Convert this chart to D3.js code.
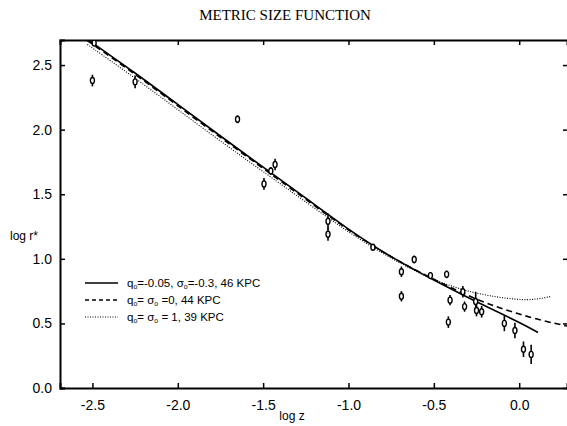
<!DOCTYPE html>
<html>
<head>
<meta charset="utf-8">
<script src="https://d3js.org/d3.v7.min.js"></script>
<style>
  body { margin: 0; background: #fff; }
  svg { display: block; }
</style>
</head>
<body>
<svg id="chart" width="567" height="426"></svg>
<script>
// tick values
let xTicks = [-2.5, -2.0, -1.5, -1.0, -0.5, 0.0];
let yTicks = [0.0, 0.5, 1.0, 1.5, 2.0, 2.5];

// model curves (log z, log r*)
let curveSolid = [[-2.53, 2.70], [-2.25, 2.44], [-2.0, 2.195], [-1.75, 1.95], [-1.5, 1.71], [-1.25, 1.47],
  [-1.0, 1.225], [-0.75, 1.01], [-0.5, 0.835], [-0.25, 0.665], [0.0, 0.51], [0.11, 0.43]];
let curveDashed = [[-2.53, 2.69], [-2.25, 2.43], [-2.0, 2.185], [-1.75, 1.94], [-1.5, 1.70], [-1.25, 1.46],
  [-1.0, 1.22], [-0.75, 1.01], [-0.5, 0.84], [-0.25, 0.68], [0.0, 0.57], [0.14, 0.52], [0.28, 0.48]];
let curveDotted = [[-2.53, 2.66], [-2.25, 2.40], [-2.0, 2.155], [-1.75, 1.91], [-1.5, 1.675], [-1.25, 1.44],
  [-1.0, 1.205], [-0.75, 1.0], [-0.5, 0.83], [-0.25, 0.725], [0.0, 0.68], [0.1, 0.685], [0.19, 0.71]];

// observed points: log z, log r*, error
let obsZ = [-2.49, -2.5, -2.25, -1.65, -1.43, -1.455, -1.495, -1.12, -1.12, -0.857, -0.69, -0.69, -0.615, -0.52,
  -0.425, -0.405, -0.415, -0.33, -0.32, -0.255, -0.25, -0.22, -0.087, -0.025, 0.025, 0.07];
let obsR = [2.67, 2.38, 2.37, 2.08, 1.73, 1.68, 1.58, 1.29, 1.19, 1.09, 0.90, 0.71, 0.995, 0.87,
  0.88, 0.68, 0.51, 0.745, 0.63, 0.67, 0.60, 0.59, 0.50, 0.445, 0.30, 0.26];
let obsErr = [0.02, 0.045, 0.05, 0.03, 0.045, 0.03, 0.045, 0.06, 0.05, 0.02, 0.04, 0.04, 0.03, 0.025,
  0.03, 0.04, 0.045, 0.045, 0.04, 0.075, 0.045, 0.045, 0.06, 0.06, 0.06, 0.075];

let legendLabels = [
  [['q', ''], ['o', 'sub'], ['=-0.05, ', ''], ['σ', ''], ['o', 'sub'], ['=-0.3, 46 KPC', '']],
  [['q', ''], ['o', 'sub'], ['= ', ''], ['σ', ''], ['o', 'sub'], [' =0, 44 KPC', '']],
  [['q', ''], ['o', 'sub'], ['= ', ''], ['σ', ''], ['o', 'sub'], [' = 1, 39 KPC', '']]
];
let legendDash = [null, '4,3', '1,1.5'];

let svg = d3.select('#chart');
let sx = d3.scaleLinear().domain([-2.69, 0.28]).range([60, 567]);
let sy = d3.scaleLinear().domain([0, 2.694]).range([388, 40]);
let font = 'Liberation Sans, Arial, sans-serif';

svg.append('text')
  .attr('x', 285).attr('y', 20)
  .attr('text-anchor', 'middle')
  .attr('font-family', 'Liberation Serif, Times New Roman, serif')
  .attr('font-size', 15)
  .text('METRIC SIZE FUNCTION');

svg.append('clipPath').attr('id', 'plotclip')
  .append('rect').attr('x', 60).attr('y', 40).attr('width', 507).attr('height', 348);

// axes
let xAxis = d3.axisBottom(sx).tickValues(xTicks).tickSize(-5).tickPadding(12).tickFormat(d3.format('.1f'));
let gx = svg.append('g').attr('transform', 'translate(0,388)').call(xAxis);
let yAxis = d3.axisLeft(sy).tickValues(yTicks).tickSize(-5).tickPadding(8).tickFormat(d3.format('.1f'));
let gy = svg.append('g').attr('transform', 'translate(60,0)').call(yAxis);
let xTop = d3.axisTop(sx).tickValues(xTicks).tickSize(-5).tickFormat('');
let gt = svg.append('g').attr('transform', 'translate(0,40)').call(xTop);
let yRight = d3.axisRight(sy).tickValues(yTicks).tickSize(-4).tickFormat('');
let gr = svg.append('g').attr('transform', 'translate(567,0)').call(yRight);
gr.select('.domain').remove();

[gx, gy, gt, gr].forEach(function(g) {
  g.selectAll('.domain').attr('stroke', '#000').attr('stroke-width', 2);
  g.selectAll('.tick line').attr('stroke', '#000').attr('stroke-width', 1.5);
  g.selectAll('.tick text').attr('font-family', font).attr('font-size', 14).attr('fill', '#000');
});
gx.selectAll('.tick text').text(d => d === 0 ? '0.0' : d3.format('.1f')(d).replace('−', '-'));

svg.append('text')
  .attr('x', 10).attr('y', 240)
  .attr('font-family', font).attr('font-size', 12)
  .text('log r*');
svg.append('text')
  .attr('x', 292).attr('y', 420)
  .attr('text-anchor', 'middle')
  .attr('font-family', font).attr('font-size', 12)
  .text('log z');

// model curves
let line = d3.line().x(d => sx(d[0])).y(d => sy(d[1])).curve(d3.curveBasis);
let plot = svg.append('g').attr('clip-path', 'url(#plotclip)');
plot.append('path').datum(curveDotted)
  .attr('d', line).attr('fill', 'none').attr('stroke', '#000')
  .attr('stroke-width', 1.1).attr('stroke-dasharray', '1,1.5');
plot.append('path').datum(curveDashed)
  .attr('d', line).attr('fill', 'none').attr('stroke', '#000')
  .attr('stroke-width', 1.6).attr('stroke-dasharray', '6,4');
plot.append('path').datum(curveSolid)
  .attr('d', line).attr('fill', 'none').attr('stroke', '#000')
  .attr('stroke-width', 1.6);

// observed points with error bars
for (let i = 0; i < obsZ.length; i++) {
  let cx = sx(obsZ[i]);
  let cy = sy(obsR[i]);
  plot.append('line')
    .attr('x1', cx).attr('x2', cx)
    .attr('y1', sy(obsR[i] + obsErr[i])).attr('y2', sy(obsR[i] - obsErr[i]))
    .attr('stroke', '#000').attr('stroke-width', 1.6);
  plot.append('ellipse')
    .attr('cx', cx).attr('cy', cy)
    .attr('rx', 2).attr('ry', 3)
    .attr('fill', '#fff').attr('stroke', '#000').attr('stroke-width', 1.4);
}

// legend
let legend = svg.append('g');
for (let i = 0; i < legendLabels.length; i++) {
  let ly = 283 + i * 17;
  let l = legend.append('line')
    .attr('x1', 85).attr('x2', 118).attr('y1', ly).attr('y2', ly)
    .attr('stroke', '#000').attr('stroke-width', i === 2 ? 1 : 1.4);
  if (legendDash[i]) l.attr('stroke-dasharray', legendDash[i]);
  let t = legend.append('text')
    .attr('x', 127).attr('y', ly + 4)
    .attr('font-family', font).attr('font-size', 11.5);
  legendLabels[i].forEach(function(p, j) {
    let s = t.append('tspan').text(p[0]);
    let prev = j > 0 ? legendLabels[i][j - 1][1] : '';
    if (p[1] === 'sub') s.attr('font-size', 7).attr('dy', 2);
    else if (prev === 'sub') s.attr('dy', -2);
  });
}
</script>
</body>
</html>
